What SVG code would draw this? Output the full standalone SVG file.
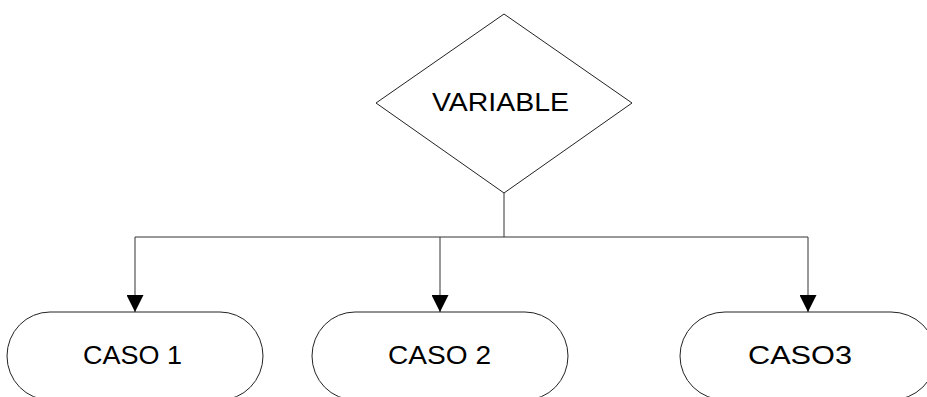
<svg xmlns="http://www.w3.org/2000/svg" width="927" height="397" viewBox="0 0 927 397">
<style>
.shape{fill:#fff;stroke:#222;stroke-width:1}
.lbl{font-family:"Liberation Sans",Arial,sans-serif;font-size:25px;fill:#000}
.conn{fill:none;stroke:#333;stroke-width:1}
</style>
<defs>
<marker id="ah" markerWidth="17" markerHeight="17" viewBox="0 0 17 17" refX="17" refY="8.5" orient="auto" markerUnits="userSpaceOnUse">
<path d="M0,0 L17,8.5 L0,17 Z" fill="#000"/>
</marker>
</defs>
<rect width="927" height="397" fill="#fff"/>
<g id="connectors">
<path class="conn" d="M504,193 V237" stroke-width="2"/>
<path class="conn" d="M135,237 H808"/>
<path class="conn" d="M135,237 V312" marker-end="url(#ah)"/>
<path class="conn" d="M440,237 V312" marker-end="url(#ah)"/>
<path class="conn" d="M808,237 V312" marker-end="url(#ah)"/>
</g>
<g id="variable">
<polygon class="shape" points="504,14 632,103 504,193 376,103"/>
<text class="lbl" x="432" y="111" textLength="137" lengthAdjust="spacingAndGlyphs">VARIABLE</text>
</g>
<g id="caso1">
<rect class="shape" x="7" y="312" width="256" height="88" rx="43" ry="44"/>
<text class="lbl" x="83" y="364" textLength="99" lengthAdjust="spacingAndGlyphs">CASO 1</text>
</g>
<g id="caso2">
<rect class="shape" x="312" y="312" width="256" height="88" rx="43" ry="44"/>
<text class="lbl" x="388" y="364" textLength="103" lengthAdjust="spacingAndGlyphs">CASO 2</text>
</g>
<g id="caso3">
<rect class="shape" x="680" y="312" width="256" height="88" rx="45" ry="44"/>
<text class="lbl" x="748" y="364" textLength="104" lengthAdjust="spacingAndGlyphs">CASO3</text>
</g>
</svg>
